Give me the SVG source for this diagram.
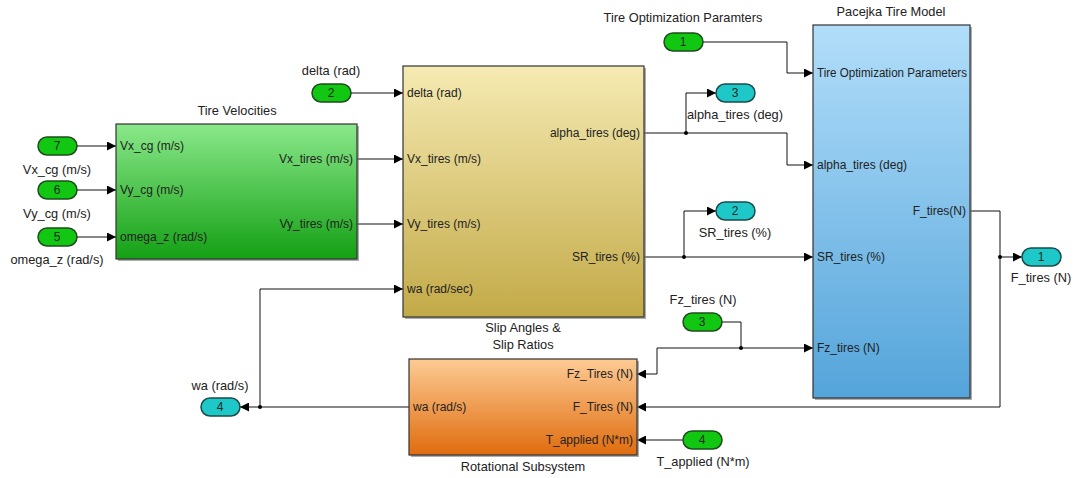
<svg xmlns="http://www.w3.org/2000/svg" width="1076" height="478" viewBox="0 0 1076 478">
<defs>
<linearGradient id="gGreen" x1="0" y1="0" x2="0" y2="1"><stop offset="0" stop-color="#8ae88a"/><stop offset="1" stop-color="#14a014"/></linearGradient>
<linearGradient id="gYellow" x1="0" y1="0" x2="0" y2="1"><stop offset="0" stop-color="#f5eab2"/><stop offset="1" stop-color="#c3aa48"/></linearGradient>
<linearGradient id="gBlue" x1="0" y1="0" x2="0" y2="1"><stop offset="0" stop-color="#b2defa"/><stop offset="1" stop-color="#54a4da"/></linearGradient>
<linearGradient id="gOrange" x1="0" y1="0" x2="0" y2="1"><stop offset="0" stop-color="#fdcb94"/><stop offset="1" stop-color="#e06c0e"/></linearGradient>
<marker id="arr" viewBox="0 0 10 10" refX="10" refY="5" markerWidth="9" markerHeight="9" markerUnits="userSpaceOnUse" orient="auto"><path d="M0,0 L10,5 L0,10 z" fill="#000"/></marker>
</defs>
<style>
text{font-family:"Liberation Sans",Arial,sans-serif;font-size:12px;fill:#222}
.blk{stroke:#333;stroke-width:1.2}
.sh{fill:#777;opacity:0.6}
.in{fill:#12c712;stroke:#1d4d1d;stroke-width:1.5}
.out{fill:#1fc8c8;stroke:#1b4b4b;stroke-width:1.5}
.pn{text-anchor:middle;font-size:12px;fill:#1a2a1a}
.lbl{text-anchor:middle;font-size:12.8px}
.r{text-anchor:end}
.w{fill:none;stroke:#111;stroke-width:1}
.a{marker-end:url(#arr)}
.dot{fill:#000}
</style>
<rect width="1076" height="478" fill="#fff"/>

<g id="connectors">
<path class="w a" d="M77,146 H116"/>
<path class="w a" d="M77,190 H116"/>
<path class="w a" d="M77,237 H116"/>
<path class="w a" d="M357,159 H403"/>
<path class="w a" d="M357,224 H403"/>
<path class="w a" d="M351,93 H403"/>
<path class="w a" d="M644,133 H787 V165 H813"/>
<path class="w a" d="M686,133 V93 H716"/>
<circle class="dot" cx="686" cy="133" r="2"/>
<path class="w a" d="M644,257 H813"/>
<path class="w a" d="M684,257 V211 H716"/>
<circle class="dot" cx="684" cy="257" r="2"/>
<path class="w a" d="M703,42 H787 V73 H813"/>
<path class="w a" d="M970,211 H1000 V407 H637"/>
<path class="w a" d="M1000,257 H1022"/>
<circle class="dot" cx="1000" cy="257" r="2"/>
<path class="w a" d="M722,322 H741 V348 H813"/>
<path class="w a" d="M741,348 H657 V374 H637"/>
<circle class="dot" cx="741" cy="348" r="2"/>
<path class="w a" d="M683,440 H637"/>
<path class="w a" d="M409,407 H240"/>
<path class="w a" d="M260,407 V289 H403"/>
<circle class="dot" cx="260" cy="407" r="2"/>
</g>

<g id="tire-velocities">
<rect class="sh" x="118" y="126" width="241" height="135"/>
<rect class="blk" x="116" y="124" width="241" height="135" fill="url(#gGreen)"/>
<text class="lbl" x="237" y="115">Tire Velocities</text>
<text x="120" y="150">Vx_cg (m/s)</text>
<text x="120" y="194">Vy_cg (m/s)</text>
<text x="120" y="241">omega_z (rad/s)</text>
<text class="r" x="353" y="163">Vx_tires (m/s)</text>
<text class="r" x="353" y="228">Vy_tires (m/s)</text>
</g>

<g id="slip-angles">
<rect class="sh" x="405" y="68" width="241" height="251"/>
<rect class="blk" x="403" y="66" width="241" height="251" fill="url(#gYellow)"/>
<text x="407" y="97">delta (rad)</text>
<text x="407" y="163">Vx_tires (m/s)</text>
<text x="407" y="228">Vy_tires (m/s)</text>
<text x="407" y="293">wa (rad/sec)</text>
<text class="r" x="640" y="137">alpha_tires (deg)</text>
<text class="r" x="640" y="261">SR_tires (%)</text>
<text class="lbl" x="523" y="332">Slip Angles &amp;</text>
<text class="lbl" x="523" y="349">Slip Ratios</text>
</g>

<g id="pacejka">
<rect class="sh" x="815" y="27" width="157" height="373"/>
<rect class="blk" x="813" y="25" width="157" height="373" fill="url(#gBlue)"/>
<text class="lbl" x="891" y="16">Pacejka Tire Model</text>
<text x="817" y="77" textLength="150" lengthAdjust="spacingAndGlyphs">Tire Optimization Parameters</text>
<text x="817" y="169">alpha_tires (deg)</text>
<text x="817" y="261">SR_tires (%)</text>
<text x="817" y="352">Fz_tires (N)</text>
<text class="r" x="966" y="215">F_tires(N)</text>
</g>

<g id="rotational">
<rect class="sh" x="411" y="361" width="228" height="96"/>
<rect class="blk" x="409" y="359" width="228" height="96" fill="url(#gOrange)"/>
<text x="413" y="411">wa (rad/s)</text>
<text class="r" x="633" y="378">Fz_Tires (N)</text>
<text class="r" x="633" y="411">F_Tires (N)</text>
<text class="r" x="633" y="444">T_applied (N*m)</text>
<text class="lbl" x="523" y="471">Rotational Subsystem</text>
</g>

<g id="in7"><rect class="in" x="38" y="137" width="39" height="18" rx="9"/><text class="pn" x="57" y="150">7</text><text class="lbl" x="57" y="174">Vx_cg (m/s)</text></g>
<g id="in6"><rect class="in" x="38" y="181" width="39" height="18" rx="9"/><text class="pn" x="57" y="194">6</text><text class="lbl" x="57" y="218">Vy_cg (m/s)</text></g>
<g id="in5"><rect class="in" x="38" y="228" width="39" height="18" rx="9"/><text class="pn" x="57" y="241">5</text><text class="lbl" x="57" y="264">omega_z (rad/s)</text></g>
<g id="in2"><rect class="in" x="312" y="84" width="39" height="18" rx="9"/><text class="pn" x="331" y="97">2</text><text class="lbl" x="331" y="75">delta (rad)</text></g>
<g id="in1"><rect class="in" x="664" y="33" width="39" height="18" rx="9"/><text class="pn" x="683" y="46">1</text><text class="lbl" x="683" y="22">Tire Optimization Paramters</text></g>
<g id="in3"><rect class="in" x="683" y="313" width="39" height="18" rx="9"/><text class="pn" x="702" y="326">3</text><text class="lbl" x="703" y="304">Fz_tires (N)</text></g>
<g id="in4"><rect class="in" x="683" y="431" width="39" height="18" rx="9"/><text class="pn" x="702" y="444">4</text><text class="lbl" x="703" y="466">T_applied (N*m)</text></g>

<g id="out3"><rect class="out" x="716" y="84" width="39" height="18" rx="9"/><text class="pn" x="735" y="97">3</text><text class="lbl" x="735" y="119">alpha_tires (deg)</text></g>
<g id="out2"><rect class="out" x="716" y="202" width="39" height="18" rx="9"/><text class="pn" x="735" y="215">2</text><text class="lbl" x="735" y="237">SR_tires (%)</text></g>
<g id="out1"><rect class="out" x="1022" y="248" width="39" height="18" rx="9"/><text class="pn" x="1041" y="261">1</text><text class="lbl" x="1041" y="282">F_tires (N)</text></g>
<g id="out4"><rect class="out" x="201" y="398" width="39" height="18" rx="9"/><text class="pn" x="220" y="411">4</text><text class="lbl" x="220" y="390">wa (rad/s)</text></g>
</svg>
